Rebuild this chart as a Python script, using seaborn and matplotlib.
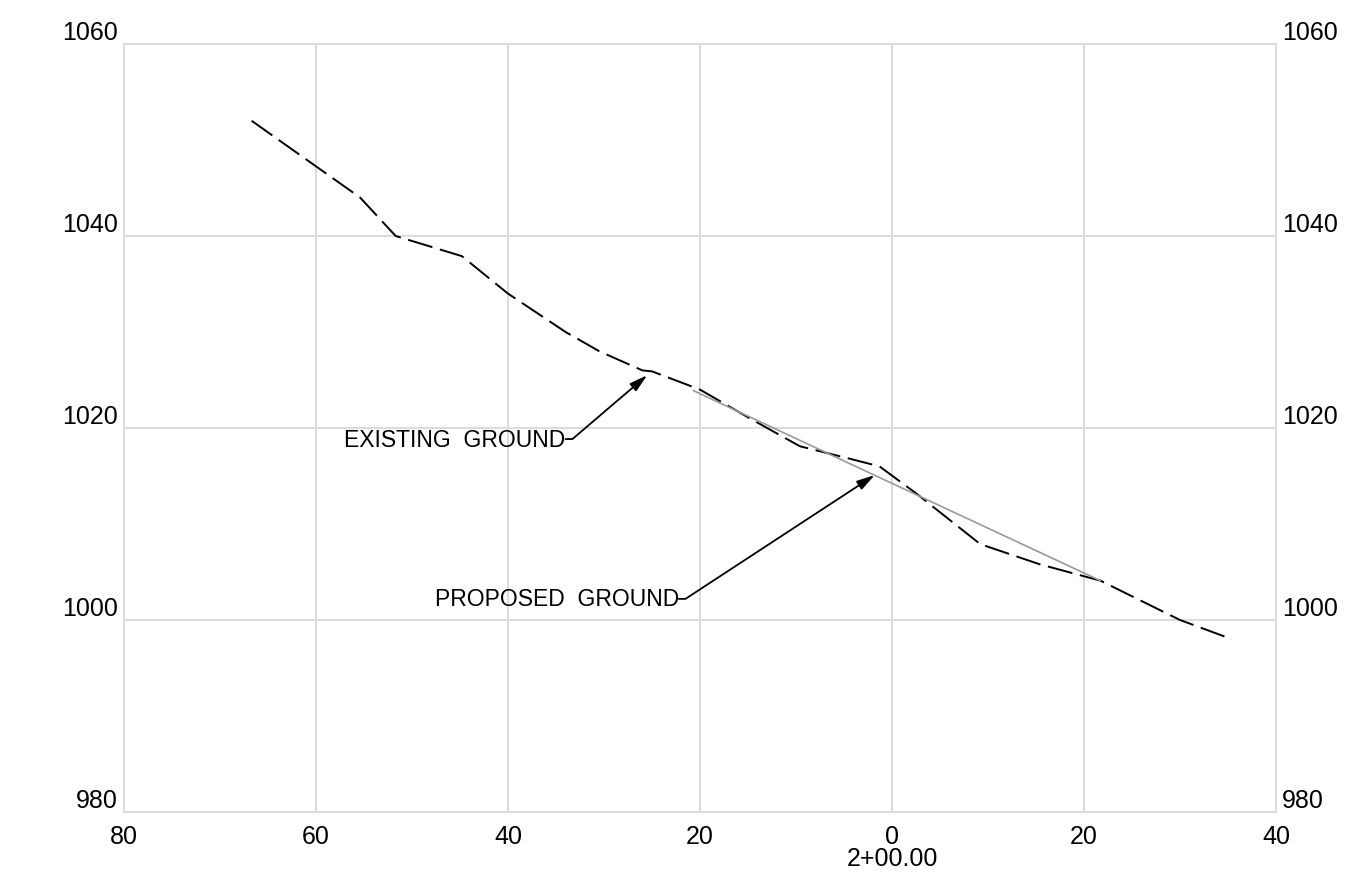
import matplotlib
matplotlib.use("Agg")
import matplotlib.pyplot as plt
import numpy as np
import pandas as pd
import seaborn as sns

# Existing ground profile (offset from centerline, elevation)
existing_x = [-66.7, -55.4, -51.7, -44.8, -40.0, -34.0, -30.5, -26.0, -25.0, -20.0,
              -14.8, -9.6, -4.4, -1.3, 2.5, 9.2, 15.4, 21.7, 30.0, 35.4]
existing_y = [1052.0, 1044.0, 1040.0, 1037.9, 1034.0, 1030.0, 1028.0, 1026.0, 1025.9, 1024.0,
              1021.0, 1018.1, 1016.8, 1016.0, 1013.2, 1007.9, 1005.8, 1004.1, 1000.0, 998.0]

# Proposed ground
proposed_x = [-20.7, 21.7]
proposed_y = [1023.9, 1004.1]

x_ticks = [-80, -60, -40, -20, 0, 20, 40]
x_tick_labels = ["80", "60", "40", "20", "0", "20", "40"]
y_ticks = [980, 1000, 1020, 1040, 1060]
station_label = "2+00.00"

sns.set_theme(style="whitegrid", rc={
    "grid.color": "#dcdcdc",
    "axes.edgecolor": "#dcdcdc",
    "grid.linewidth": 1.4,
    "axes.linewidth": 1.4,
    "text.color": "black",
})
plt.rcParams["font.family"] = ["Liberation Sans", "DejaVu Sans"]

existing_df = pd.DataFrame({"offset": existing_x, "elev": existing_y})
proposed_df = pd.DataFrame({"offset": proposed_x, "elev": proposed_y})

fig = plt.figure(figsize=(13.68, 8.78), dpi=100)
ax = fig.add_axes([124 / 1368, 65 / 878, 1152 / 1368, 768 / 878])

sns.lineplot(data=existing_df, x="offset", y="elev", sort=False, estimator=None,
             color="black", linewidth=1.4, linestyle=(0, (13, 4)), ax=ax)
sns.lineplot(data=proposed_df, x="offset", y="elev", sort=False, estimator=None,
             color="#999999", linewidth=1.2, ax=ax)

ax.set_xlim(-80, 40)
ax.set_ylim(980, 1060)
ax.set_xticks(x_ticks)
ax.set_xticklabels(x_tick_labels)
ax.set_yticks(y_ticks)
ax.set_yticklabels([str(v) for v in y_ticks])
ax.set_xlabel("")
ax.set_ylabel("")
for s in ax.spines.values():
    s.set_visible(True)

ax.tick_params(axis="both", length=0, labelsize=18, colors="black")
ax.tick_params(axis="x", pad=9)
ax.tick_params(axis="y", pad=4.5, labelright=True)
for t in ax.yaxis.get_major_ticks():
    t.label1.set_va("bottom")
    t.label2.set_va("bottom")

ax.annotate(station_label, xy=(0, 0), xycoords=("data", "axes fraction"),
            xytext=(0, -33), textcoords="offset points",
            ha="center", va="center", fontsize=18, color="black")

arrow = dict(arrowstyle="-|>,head_length=0.9,head_width=0.25", color="black",
             lw=1.3, shrinkA=0, shrinkB=0, patchA=None, relpos=(1.0, 0.5),
             mutation_scale=12)

ax.annotate("EXISTING  GROUND", xy=(-25.5, 1025.5), xytext=(-34.0, 1018.85),
            ha="right", va="center", fontsize=16.5, color="black",
            arrowprops=dict(arrow, connectionstyle="angle,angleA=0,angleB=40.5,rad=0"))
ax.annotate("PROPOSED  GROUND", xy=(-1.8, 1015.1), xytext=(-22.2, 1002.2),
            ha="right", va="center", fontsize=16.5, color="black",
            arrowprops=dict(arrow, connectionstyle="angle,angleA=0,angleB=33.2,rad=0"))

fig.savefig("out.png", dpi=100)
